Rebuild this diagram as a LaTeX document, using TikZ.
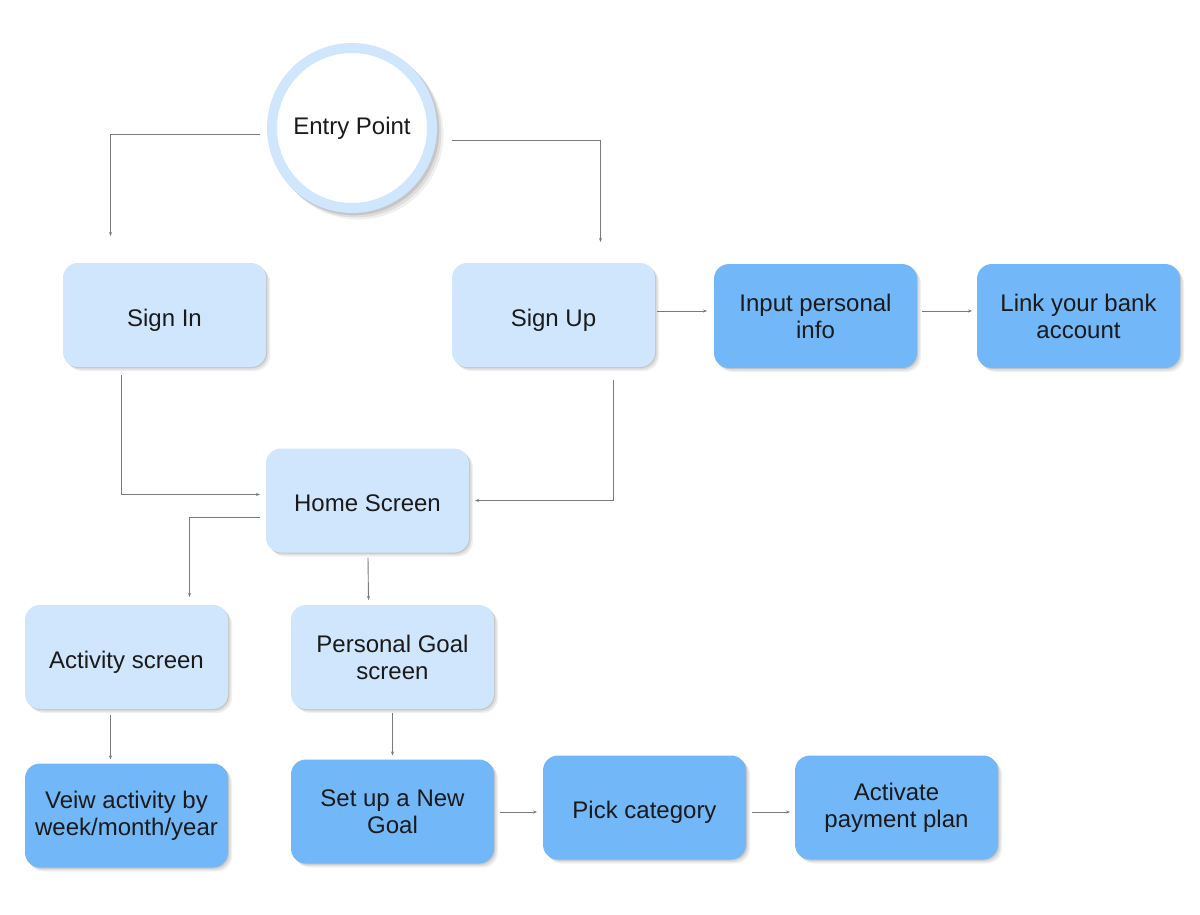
\documentclass[tikz,border=0pt]{standalone}
\usepackage{fontspec}
\setmainfont{Liberation Sans}
\usetikzlibrary{calc,shadows,arrows.meta}
\definecolor{lightbox}{HTML}{CFE6FD}
\definecolor{darkbox}{HTML}{72B7F8}
\definecolor{linegray}{HTML}{7A7A7A}
\definecolor{txt}{HTML}{1A1A1A}
\tikzset{
  softshadow/.style={
    drop shadow={shadow xshift=1pt, shadow yshift=-1pt, shadow scale=1.0, opacity=0.10, fill=black},
    drop shadow={shadow xshift=2.5pt, shadow yshift=-2.5pt, shadow scale=1.0, opacity=0.08, fill=black},
    drop shadow={shadow xshift=4pt, shadow yshift=-4pt, shadow scale=1.0, opacity=0.06, fill=black}},
  circshadow/.style={
    drop shadow={shadow xshift=2pt, shadow yshift=-2pt, shadow scale=1.065, opacity=0.10, fill=black},
    drop shadow={shadow xshift=4pt, shadow yshift=-4pt, shadow scale=1.065, opacity=0.08, fill=black},
    drop shadow={shadow xshift=6pt, shadow yshift=-6pt, shadow scale=1.065, opacity=0.06, fill=black}},
  boxbase/.style={rounded corners=15pt, minimum width=203pt, minimum height=104pt,
    inner sep=0pt, outer sep=0pt, align=center, text=txt,
    font=\fontsize{24}{27}\selectfont, softshadow},
  oneline/.style={text height=22pt, text depth=0pt},
  lightnode/.style={boxbase, fill=lightbox},
  darknode/.style={boxbase, fill=darkbox},
  conn/.style={draw=linegray, line width=0.9pt, -{Stealth[length=4pt,width=3pt]}},
}
\begin{document}
\begin{tikzpicture}[x=1pt,y=-1pt]
\useasboundingbox[fill=white] (0,0) rectangle (1200,915);
% entry circle
\node[circle, minimum size=160pt, inner sep=0pt, outer sep=0pt, draw=lightbox, line width=10pt, fill=white,
  text=txt, font=\fontsize{24}{27}\selectfont, circshadow]
  (entry) at (352,128) {Entry Point};
% nodes
\node[lightnode, oneline] (signin) at (164.5,315) {Sign In};
\node[lightnode, oneline] (signup) at (553.5,315) {Sign Up};
\node[darknode] (input) at (815.5,316) {Input personal\\info};
\node[darknode] (link) at (1078.5,316) {Link your bank\\account};
\node[lightnode, oneline] (home) at (367.5,500.5) {Home Screen};
\node[lightnode, oneline] (activity) at (126.5,657) {Activity screen};
\node[lightnode] (goal) at (392.5,657) {Personal Goal\\screen};
\node[darknode] (veiw) at (126.5,815.5) {Veiw activity by\\week/month/year};
\node[darknode] (setup) at (392.5,811.5) {Set up a New\\Goal};
\node[darknode, oneline] (pick) at (644.5,807.5) {Pick category};
\node[darknode] (act) at (896.5,807.5) {Activate\\payment plan};
% connectors
\draw[conn] ($(entry.west)+(-12,6)$) -| ($(signin.north)+(-54,-27)$);
\draw[conn] ($(entry.east)+(20,12)$) -| ($(signup.north)+(47,-21)$);
\draw[conn] ($(signup.east)+(2,-4)$) -- ($(input.west)+(-7,-5)$);
\draw[conn] ($(input.east)+(5,-5)$) -- ($(link.west)+(-5,-5)$);
\draw[conn] ($(signin.south)+(-43,8)$) |- ($(home.west)+(-6,-6)$);
\draw[conn] ($(signup.south)+(60,13)$) |- ($(home.east)+(6,0)$);
\draw[conn] ($(home.west)+(-6,17)$) -| ($(activity.north)+(63,-8)$);
\draw[conn] ($(home.south)+(0.5,5)$) -- ($(goal.north)+(-24,-5)$);
\draw[conn] ($(activity.south)+(-16,6)$) -- ($(veiw.north)+(-16,-4)$);
\draw[conn] ($(goal.south)+(0,4)$) -- ($(setup.north)+(0,-4)$);
\draw[conn] ($(setup.east)+(6,0.5)$) -- ($(pick.west)+(-6,4.5)$);
\draw[conn] ($(pick.east)+(6,4.5)$) -- ($(act.west)+(-5,4.5)$);
\end{tikzpicture}
\end{document}
